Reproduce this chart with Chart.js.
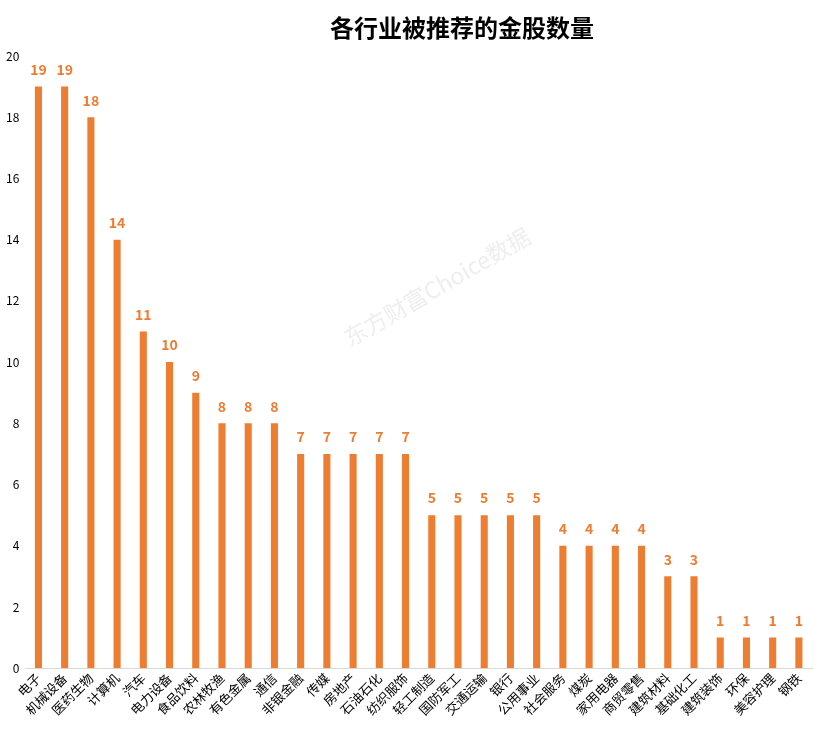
<!DOCTYPE html>
<html>
<head>
<meta charset="utf-8">
<script src="https://cdn.jsdelivr.net/npm/chart.js@4"></script>
<style>
  body { margin: 0; background: #fff; }
  #wrap { width: 814px; height: 731px; }
</style>
</head>
<body>
<div id="wrap"><canvas id="chart"></canvas></div>
<script>
const categories = ["电子", "机械设备", "医药生物", "计算机", "汽车", "电力设备", "食品饮料", "农林牧渔", "有色金属", "通信",
    "非银金融", "传媒", "房地产", "石油石化", "纺织服饰", "轻工制造", "国防军工", "交通运输", "银行", "公用事业",
    "社会服务", "煤炭", "家用电器", "商贸零售", "建筑材料", "基础化工", "建筑装饰", "环保", "美容护理", "钢铁"];
const counts = [19, 19, 18, 14, 11, 10, 9, 8, 8, 8, 7, 7, 7, 7, 7, 5, 5, 5, 5, 5, 4, 4, 4, 4, 3, 3, 1, 1, 1, 1];
const yTicks = [0, 2, 4, 6, 8, 10, 12, 14, 16, 18, 20];

const font = "'Microsoft YaHei', 'Noto Sans CJK SC', sans-serif";

// title, watermark and value labels drawn on the canvas
const extras = {
    id: "extras",
    beforeDatasetsDraw(chart) {
        const c = chart.ctx;
        c.save();
        c.translate(437, 287);
        c.rotate(-30 * Math.PI / 180);
        c.font = "23px " + font;
        c.fillStyle = "rgba(200,200,200,0.3)";
        c.textAlign = "center";
        c.textBaseline = "middle";
        c.fillText("东方财富Choice数据", 0, 0);
        c.restore();
    },
    afterDatasetsDraw(chart) {
        const c = chart.ctx;
        c.save();
        c.font = "bold 24px " + font;
        c.fillStyle = "#000";
        c.textAlign = "center";
        c.textBaseline = "middle";
        c.fillText("各行业被推荐的金股数量", 462, 28);

        c.font = "bold 14px " + font;
        c.fillStyle = "#ED7D31";
        chart.getDatasetMeta(0).data.forEach((bar, i) => {
            c.fillText(counts[i], bar.x, bar.y - 17);
        });
        c.restore();
    }
};

new Chart(document.getElementById("chart"), {
    type: "bar",
    data: {
        labels: categories,
        datasets: [{
            data: counts,
            backgroundColor: "#ED7D31",
            barPercentage: 0.54,
            categoryPercentage: 0.5
        }]
    },
    options: {
        responsive: true,
        maintainAspectRatio: false,
        animation: false,
        layout: { padding: { top: 56, right: 2, left: 0, bottom: 11 } },
        plugins: {
            legend: { display: false },
            tooltip: { enabled: false }
        },
        scales: {
            x: {
                grid: { display: false, drawTicks: false },
                border: { color: "#d9d9d9" },
                ticks: {
                    color: "#000",
                    font: { size: 13, family: font },
                    minRotation: 45,
                    maxRotation: 45,
                    autoSkip: false,
                    padding: 2
                }
            },
            y: {
                min: 0,
                max: 20,
                afterBuildTicks(axis) {
                    axis.ticks = yTicks.map(v => ({ value: v }));
                },
                grid: { display: false, drawTicks: false },
                border: { display: false },
                ticks: {
                    color: "#000",
                    font: { size: 12, family: font },
                    padding: 6
                }
            }
        }
    },
    plugins: [extras]
});
</script>
</body>
</html>
